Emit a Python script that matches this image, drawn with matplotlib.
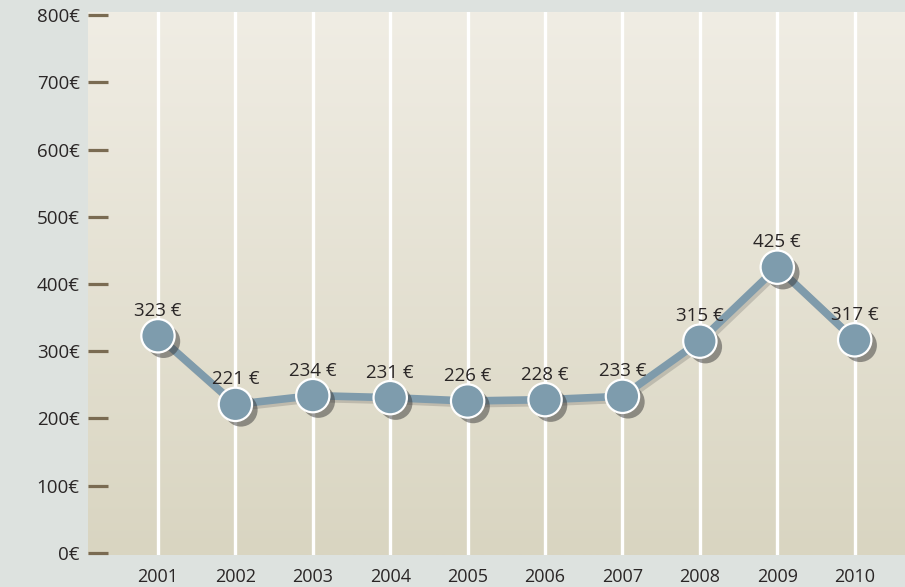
import numpy as np
import matplotlib
matplotlib.use("Agg")
from matplotlib import pyplot as plt
from matplotlib import patheffects as pe

years = ["2001", "2002", "2003", "2004", "2005", "2006", "2007", "2008", "2009", "2010"]
values = [323, 221, 234, 231, 226, 228, 233, 315, 425, 317]
yTicks = [0, 100, 200, 300, 400, 500, 600, 700, 800]
yTickLabels = ["{0}€".format(v) for v in yTicks]
valueLabels = ["{0} €".format(v) for v in values]

plt.rcParams["font.family"] = ["Open Sans", "DejaVu Sans"]
textColor = "#2a2626"

fig = plt.figure(figsize=(9.05, 5.87), dpi=100, facecolor="#dde2df")
ax = fig.add_axes([88 / 905, 32 / 587, 1 - 88 / 905, (555 - 12) / 587])

x = np.arange(1, len(years) + 1)
xMin, xMax = 0.096, 10.65
yMin, yMax = -3, 804.5
ax.set_xlim(xMin, xMax)
ax.set_ylim(yMin, yMax)

# beige gradient background
grad = np.linspace(0, 1, 256).reshape(-1, 1)
top = np.array([0xf0, 0xed, 0xe4]) / 255
bottom = np.array([0xd9, 0xd5, 0xc1]) / 255
img = top + (bottom - top) * grad[:, :, None]
ax.imshow(img, extent=[xMin, xMax, yMin, yMax], aspect="auto", origin="upper", zorder=0)

for xi in x:
    ax.axvline(xi, color="white", lw=2.4, zorder=1)

shadow = [pe.SimpleLineShadow(offset=(2, -2), shadow_color="#3a3a3a", alpha=0.2), pe.Normal()]
ax.plot(x, values, color="#7f9bab", lw=5.5, solid_capstyle="round", zorder=2, path_effects=shadow)
markerShadow = [pe.SimplePatchShadow(offset=(4, -4), shadow_rgbFace="#3a3a3a", alpha=0.5), pe.Normal()]
ax.plot(x, values, "o", ms=24, mfc="#7e9cad", mec="white", mew=1.6, zorder=3, path_effects=markerShadow)

for xi, v, lab in zip(x, values, valueLabels):
    ax.annotate(lab, (xi, v), xytext=(0, 18), textcoords="offset points", ha="center", va="center",
                fontsize=13.5, color=textColor, zorder=4)

ax.set_yticks(yTicks, yTickLabels)
ax.set_xticks(x, years)
ax.tick_params(axis="y", direction="in", length=14.5, width=2.3, color="#7a6b52", pad=6,
               labelsize=13.5, labelcolor=textColor)
ax.tick_params(axis="x", length=0, pad=9, labelsize=13, labelcolor=textColor)
for s in ax.spines.values():
    s.set_visible(False)

fig.savefig("out.png", dpi=100, facecolor=fig.get_facecolor())
